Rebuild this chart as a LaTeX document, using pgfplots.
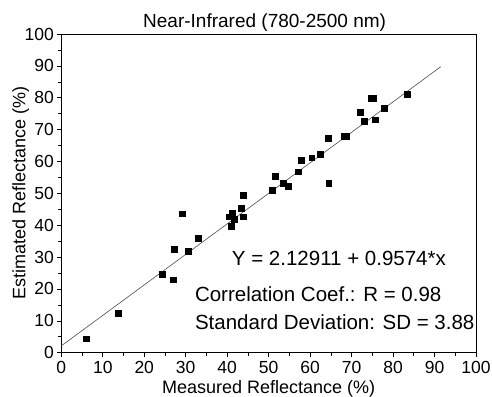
\documentclass[border=0pt]{standalone}
\usepackage{pgfplots}
\pgfplotsset{compat=1.18}
\usepackage{fontspec}
\setmainfont{Liberation Sans}
\begin{document}
\begin{tikzpicture}
\begin{axis}[
  scale only axis,
  width=414.7pt, height=318.7pt,
  xmin=0, xmax=100, ymin=0, ymax=100,
  xtick={0,10,...,100}, ytick={0,10,...,100},
  minor x tick num=1, minor y tick num=1,
  xtick pos=bottom, ytick pos=left,
  tick align=outside,
  major tick length=4pt, minor tick length=3pt,
  axis line style={black, line width=0.6pt},
  tick style={black, line width=0.6pt},
  /pgf/number format/assume math mode=true,
  tick label style={font=\fontsize{17.5}{19}\selectfont},
  x tick label style={anchor=base, yshift=-16.8pt},
  title={Near-Infrared (780-2500 nm)},
  title style={font=\fontsize{19}{21}\selectfont, at={(axis description cs:0.5,1)}, anchor=base, yshift=0pt, xshift=-4pt},
  xlabel={Measured Reflectance (\%)},
  ylabel={Estimated Reflectance (\%)},
  xlabel style={font=\fontsize{18}{20}\selectfont, at={(axis description cs:0.5,0)}, anchor=base, yshift=-41pt},
  ylabel style={font=\fontsize{18}{20}\selectfont, at={(axis description cs:0,0.5)}, anchor=base, yshift=36pt},
  clip=false,
]
\addplot[only marks, mark=square*, mark size=2.9pt, black] coordinates {
(6.1,4.4) (13.8,12.4) (24.3,24.7) (26.9,22.9) (27.3,32.5) (29.1,43.6)
(30.6,31.9) (33.1,35.9) (40.5,42.7) (41.0,39.8) (41.3,43.8) (41.7,41.9)
(43.3,45.4) (43.9,42.7) (43.8,49.3) (50.9,51.1) (51.6,55.3) (53.6,53.1)
(54.8,52.3) (57.2,56.8) (57.9,60.4) (60.4,61.2) (62.5,62.2) (64.3,67.3)
(64.5,53.2) (68.1,67.9) (68.7,67.9) (72.1,75.4) (73.1,72.7) (74.8,79.8)
(75.2,79.8) (75.7,73.1) (77.8,76.6) (83.5,81.2)
};
\addplot[black!70, line width=0.6pt] coordinates {(0,2.12911) (91.5,89.7313)};
\node[anchor=base west, font=\fontsize{20.5}{22}\selectfont] at (axis cs:40.3,27.4) {Y = 2.12911 + 0.9574*x};
\node[anchor=base west, font=\fontsize{20.5}{22}\selectfont] at (axis cs:31.4,16.1) {Correlation Coef.: R = 0.98};
\node[anchor=base west, font=\fontsize{20.5}{22}\selectfont] at (axis cs:31.4,7.4) {Standard Deviation: SD = 3.88};
\end{axis}
\pgfresetboundingbox
\path (-61.3pt,-43.3pt) rectangle (430.7pt,352.7pt);
\end{tikzpicture}
\end{document}
